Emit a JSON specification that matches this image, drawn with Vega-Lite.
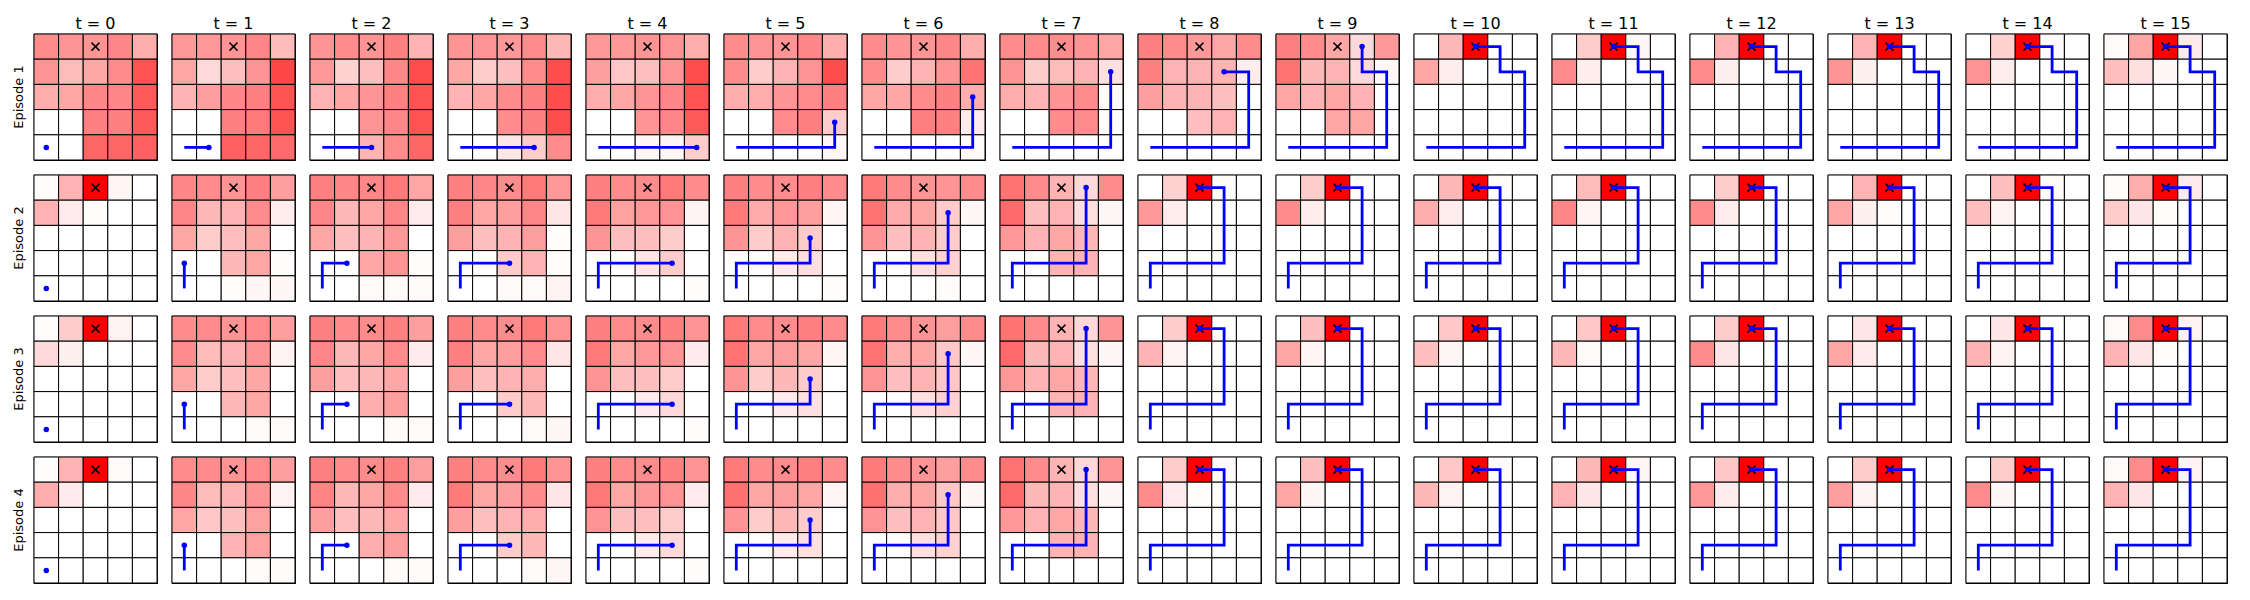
{
"$schema": "https://vega.github.io/schema/vega-lite/v6.json",
"padding": {"left": 12, "top": 16, "right": 5, "bottom": 5},
"background": "white",
"bounds": "flush",
"data": {"values": [
{"e":1,"t":0,"r":0,"c0":45,"c1":42,"c2":42,"c3":47,"c4":32},{"e":1,"t":0,"r":1,"c0":42,"c1":27,"c2":35,"c3":45,"c4":68},{"e":1,"t":0,"r":2,"c0":32,"c1":35,"c2":47,"c3":47,"c4":65},{"e":1,"t":0,"r":3,"c0":0,"c1":0,"c2":50,"c3":50,"c4":65},{"e":1,"t":0,"r":4,"c0":0,"c1":0,"c2":60,"c3":60,"c4":62},
{"e":1,"t":1,"r":0,"c0":40,"c1":40,"c2":42,"c3":47,"c4":27},{"e":1,"t":1,"r":1,"c0":35,"c1":15,"c2":25,"c3":42,"c4":72},{"e":1,"t":1,"r":2,"c0":30,"c1":38,"c2":47,"c3":50,"c4":68},{"e":1,"t":1,"r":3,"c0":0,"c1":0,"c2":50,"c3":52,"c4":68},{"e":1,"t":1,"r":4,"c0":0,"c1":0,"c2":62,"c3":60,"c4":58},
{"e":1,"t":2,"r":0,"c0":42,"c1":45,"c2":42,"c3":50,"c4":30},{"e":1,"t":2,"r":1,"c0":40,"c1":18,"c2":25,"c3":47,"c4":70},{"e":1,"t":2,"r":2,"c0":30,"c1":35,"c2":42,"c3":50,"c4":68},{"e":1,"t":2,"r":3,"c0":0,"c1":0,"c2":42,"c3":47,"c4":68},{"e":1,"t":2,"r":4,"c0":0,"c1":0,"c2":30,"c3":45,"c4":60},
{"e":1,"t":3,"r":0,"c0":42,"c1":42,"c2":40,"c3":45,"c4":28},{"e":1,"t":3,"r":1,"c0":35,"c1":20,"c2":25,"c3":45,"c4":70},{"e":1,"t":3,"r":2,"c0":30,"c1":35,"c2":45,"c3":50,"c4":70},{"e":1,"t":3,"r":3,"c0":0,"c1":0,"c2":45,"c3":50,"c4":70},{"e":1,"t":3,"r":4,"c0":0,"c1":0,"c2":10,"c3":20,"c4":45},
{"e":1,"t":4,"r":0,"c0":40,"c1":40,"c2":42,"c3":42,"c4":32},{"e":1,"t":4,"r":1,"c0":38,"c1":22,"c2":25,"c3":42,"c4":70},{"e":1,"t":4,"r":2,"c0":32,"c1":35,"c2":42,"c3":47,"c4":68},{"e":1,"t":4,"r":3,"c0":0,"c1":0,"c2":42,"c3":47,"c4":65},{"e":1,"t":4,"r":4,"c0":0,"c1":0,"c2":3,"c3":3,"c4":20},
{"e":1,"t":5,"r":0,"c0":45,"c1":42,"c2":42,"c3":47,"c4":32},{"e":1,"t":5,"r":1,"c0":45,"c1":20,"c2":30,"c3":42,"c4":70},{"e":1,"t":5,"r":2,"c0":32,"c1":32,"c2":42,"c3":45,"c4":50},{"e":1,"t":5,"r":3,"c0":0,"c1":0,"c2":45,"c3":50,"c4":20},{"e":1,"t":5,"r":4,"c0":0,"c1":0,"c2":0,"c3":0,"c4":3},
{"e":1,"t":6,"r":0,"c0":45,"c1":42,"c2":42,"c3":47,"c4":32},{"e":1,"t":6,"r":1,"c0":45,"c1":20,"c2":30,"c3":42,"c4":55},{"e":1,"t":6,"r":2,"c0":35,"c1":35,"c2":45,"c3":50,"c4":32},{"e":1,"t":6,"r":3,"c0":0,"c1":0,"c2":50,"c3":50,"c4":8},{"e":1,"t":6,"r":4,"c0":0,"c1":0,"c2":0,"c3":0,"c4":2},
{"e":1,"t":7,"r":0,"c0":45,"c1":45,"c2":45,"c3":42,"c4":35},{"e":1,"t":7,"r":1,"c0":42,"c1":20,"c2":27,"c3":30,"c4":12},{"e":1,"t":7,"r":2,"c0":32,"c1":30,"c2":42,"c3":45,"c4":2},{"e":1,"t":7,"r":3,"c0":0,"c1":0,"c2":45,"c3":45,"c4":0},{"e":1,"t":7,"r":4,"c0":0,"c1":0,"c2":0,"c3":0,"c4":0},
{"e":1,"t":8,"r":0,"c0":50,"c1":45,"c2":40,"c3":35,"c4":45},{"e":1,"t":8,"r":1,"c0":50,"c1":30,"c2":30,"c3":30,"c4":7},{"e":1,"t":8,"r":2,"c0":38,"c1":30,"c2":30,"c3":25,"c4":0},{"e":1,"t":8,"r":3,"c0":0,"c1":0,"c2":25,"c3":30,"c4":0},{"e":1,"t":8,"r":4,"c0":0,"c1":0,"c2":0,"c3":0,"c4":0},
{"e":1,"t":9,"r":0,"c0":50,"c1":45,"c2":35,"c3":15,"c4":40},{"e":1,"t":9,"r":1,"c0":55,"c1":28,"c2":30,"c3":15,"c4":3},{"e":1,"t":9,"r":2,"c0":35,"c1":30,"c2":35,"c3":30,"c4":0},{"e":1,"t":9,"r":3,"c0":0,"c1":0,"c2":35,"c3":35,"c4":0},{"e":1,"t":9,"r":4,"c0":0,"c1":0,"c2":0,"c3":0,"c4":0},
{"e":1,"t":10,"r":0,"c0":0,"c1":28,"c2":100,"c3":0,"c4":0},{"e":1,"t":10,"r":1,"c0":35,"c1":7,"c2":0,"c3":0,"c4":0},{"e":1,"t":10,"r":2,"c0":0,"c1":0,"c2":0,"c3":0,"c4":0},{"e":1,"t":10,"r":3,"c0":0,"c1":0,"c2":0,"c3":0,"c4":0},{"e":1,"t":10,"r":4,"c0":0,"c1":0,"c2":0,"c3":0,"c4":0},
{"e":1,"t":11,"r":0,"c0":0,"c1":20,"c2":100,"c3":3,"c4":0},{"e":1,"t":11,"r":1,"c0":45,"c1":7,"c2":0,"c3":0,"c4":0},{"e":1,"t":11,"r":2,"c0":0,"c1":0,"c2":0,"c3":0,"c4":0},{"e":1,"t":11,"r":3,"c0":0,"c1":0,"c2":0,"c3":0,"c4":0},{"e":1,"t":11,"r":4,"c0":0,"c1":0,"c2":0,"c3":0,"c4":0},
{"e":1,"t":12,"r":0,"c0":0,"c1":30,"c2":100,"c3":0,"c4":0},{"e":1,"t":12,"r":1,"c0":45,"c1":6,"c2":0,"c3":0,"c4":0},{"e":1,"t":12,"r":2,"c0":0,"c1":0,"c2":0,"c3":0,"c4":0},{"e":1,"t":12,"r":3,"c0":0,"c1":0,"c2":0,"c3":0,"c4":0},{"e":1,"t":12,"r":4,"c0":0,"c1":0,"c2":0,"c3":0,"c4":0},
{"e":1,"t":13,"r":0,"c0":0,"c1":30,"c2":100,"c3":0,"c4":0},{"e":1,"t":13,"r":1,"c0":42,"c1":6,"c2":0,"c3":0,"c4":0},{"e":1,"t":13,"r":2,"c0":0,"c1":0,"c2":0,"c3":0,"c4":0},{"e":1,"t":13,"r":3,"c0":0,"c1":0,"c2":0,"c3":0,"c4":0},{"e":1,"t":13,"r":4,"c0":0,"c1":0,"c2":0,"c3":0,"c4":0},
{"e":1,"t":14,"r":0,"c0":0,"c1":18,"c2":100,"c3":2,"c4":0},{"e":1,"t":14,"r":1,"c0":42,"c1":7,"c2":0,"c3":0,"c4":0},{"e":1,"t":14,"r":2,"c0":0,"c1":0,"c2":0,"c3":0,"c4":0},{"e":1,"t":14,"r":3,"c0":0,"c1":0,"c2":0,"c3":0,"c4":0},{"e":1,"t":14,"r":4,"c0":0,"c1":0,"c2":0,"c3":0,"c4":0},
{"e":1,"t":15,"r":0,"c0":2,"c1":35,"c2":100,"c3":8,"c4":0},{"e":1,"t":15,"r":1,"c0":25,"c1":12,"c2":3,"c3":0,"c4":0},{"e":1,"t":15,"r":2,"c0":0,"c1":0,"c2":0,"c3":0,"c4":0},{"e":1,"t":15,"r":3,"c0":0,"c1":0,"c2":0,"c3":0,"c4":0},{"e":1,"t":15,"r":4,"c0":0,"c1":0,"c2":0,"c3":0,"c4":0},
{"e":2,"t":0,"r":0,"c0":1,"c1":30,"c2":100,"c3":4,"c4":0},{"e":2,"t":0,"r":1,"c0":30,"c1":8,"c2":1,"c3":0,"c4":0},{"e":2,"t":0,"r":2,"c0":0,"c1":0,"c2":0,"c3":0,"c4":0},{"e":2,"t":0,"r":3,"c0":0,"c1":0,"c2":0,"c3":0,"c4":0},{"e":2,"t":0,"r":4,"c0":0,"c1":0,"c2":0,"c3":0,"c4":0},
{"e":2,"t":1,"r":0,"c0":47,"c1":45,"c2":42,"c3":50,"c4":38},{"e":2,"t":1,"r":1,"c0":47,"c1":28,"c2":30,"c3":45,"c4":7},{"e":2,"t":1,"r":2,"c0":35,"c1":20,"c2":25,"c3":35,"c4":0},{"e":2,"t":1,"r":3,"c0":0,"c1":0,"c2":28,"c3":35,"c4":1},{"e":2,"t":1,"r":4,"c0":0,"c1":0,"c2":1,"c3":3,"c4":3},
{"e":2,"t":2,"r":0,"c0":50,"c1":47,"c2":47,"c3":52,"c4":35},{"e":2,"t":2,"r":1,"c0":47,"c1":28,"c2":35,"c3":47,"c4":8},{"e":2,"t":2,"r":2,"c0":35,"c1":25,"c2":30,"c3":40,"c4":0},{"e":2,"t":2,"r":3,"c0":0,"c1":0,"c2":35,"c3":42,"c4":1},{"e":2,"t":2,"r":4,"c0":0,"c1":0,"c2":2,"c3":2,"c4":2},
{"e":2,"t":3,"r":0,"c0":50,"c1":47,"c2":45,"c3":52,"c4":40},{"e":2,"t":3,"r":1,"c0":50,"c1":35,"c2":38,"c3":47,"c4":10},{"e":2,"t":3,"r":2,"c0":38,"c1":25,"c2":30,"c3":38,"c4":1},{"e":2,"t":3,"r":3,"c0":0,"c1":0,"c2":20,"c3":30,"c4":1},{"e":2,"t":3,"r":4,"c0":0,"c1":0,"c2":2,"c3":2,"c4":5},
{"e":2,"t":4,"r":0,"c0":50,"c1":45,"c2":45,"c3":52,"c4":45},{"e":2,"t":4,"r":1,"c0":52,"c1":37,"c2":40,"c3":42,"c4":5},{"e":2,"t":4,"r":2,"c0":42,"c1":25,"c2":25,"c3":20,"c4":0},{"e":2,"t":4,"r":3,"c0":0,"c1":0,"c2":10,"c3":20,"c4":0},{"e":2,"t":4,"r":4,"c0":0,"c1":0,"c2":0,"c3":0,"c4":1},
{"e":2,"t":5,"r":0,"c0":50,"c1":45,"c2":45,"c3":50,"c4":45},{"e":2,"t":5,"r":1,"c0":52,"c1":33,"c2":40,"c3":38,"c4":4},{"e":2,"t":5,"r":2,"c0":42,"c1":20,"c2":30,"c3":20,"c4":0},{"e":2,"t":5,"r":3,"c0":0,"c1":0,"c2":8,"c3":13,"c4":0},{"e":2,"t":5,"r":4,"c0":0,"c1":0,"c2":0,"c3":0,"c4":1},
{"e":2,"t":6,"r":0,"c0":52,"c1":45,"c2":42,"c3":42,"c4":45},{"e":2,"t":6,"r":1,"c0":55,"c1":33,"c2":35,"c3":20,"c4":3},{"e":2,"t":6,"r":2,"c0":42,"c1":25,"c2":30,"c3":20,"c4":0},{"e":2,"t":6,"r":3,"c0":0,"c1":0,"c2":12,"c3":18,"c4":0},{"e":2,"t":6,"r":4,"c0":0,"c1":0,"c2":0,"c3":1,"c4":0},
{"e":2,"t":7,"r":0,"c0":55,"c1":45,"c2":30,"c3":15,"c4":45},{"e":2,"t":7,"r":1,"c0":58,"c1":25,"c2":30,"c3":12,"c4":3},{"e":2,"t":7,"r":2,"c0":40,"c1":30,"c2":35,"c3":28,"c4":0},{"e":2,"t":7,"r":3,"c0":0,"c1":0,"c2":30,"c3":30,"c4":0},{"e":2,"t":7,"r":4,"c0":0,"c1":0,"c2":0,"c3":0,"c4":0},
{"e":2,"t":8,"r":0,"c0":0,"c1":18,"c2":100,"c3":1,"c4":0},{"e":2,"t":8,"r":1,"c0":40,"c1":7,"c2":0,"c3":0,"c4":0},{"e":2,"t":8,"r":2,"c0":0,"c1":0,"c2":0,"c3":0,"c4":0},{"e":2,"t":8,"r":3,"c0":0,"c1":0,"c2":0,"c3":0,"c4":0},{"e":2,"t":8,"r":4,"c0":0,"c1":0,"c2":0,"c3":0,"c4":0},
{"e":2,"t":9,"r":0,"c0":0,"c1":20,"c2":100,"c3":1,"c4":0},{"e":2,"t":9,"r":1,"c0":45,"c1":7,"c2":0,"c3":0,"c4":0},{"e":2,"t":9,"r":2,"c0":0,"c1":0,"c2":0,"c3":0,"c4":0},{"e":2,"t":9,"r":3,"c0":0,"c1":0,"c2":0,"c3":0,"c4":0},{"e":2,"t":9,"r":4,"c0":0,"c1":0,"c2":0,"c3":0,"c4":0},
{"e":2,"t":10,"r":0,"c0":0,"c1":28,"c2":100,"c3":1,"c4":0},{"e":2,"t":10,"r":1,"c0":32,"c1":7,"c2":0,"c3":0,"c4":0},{"e":2,"t":10,"r":2,"c0":0,"c1":0,"c2":0,"c3":0,"c4":0},{"e":2,"t":10,"r":3,"c0":0,"c1":0,"c2":0,"c3":0,"c4":0},{"e":2,"t":10,"r":4,"c0":0,"c1":0,"c2":0,"c3":0,"c4":0},
{"e":2,"t":11,"r":0,"c0":0,"c1":27,"c2":100,"c3":0,"c4":0},{"e":2,"t":11,"r":1,"c0":47,"c1":4,"c2":0,"c3":0,"c4":0},{"e":2,"t":11,"r":2,"c0":0,"c1":0,"c2":0,"c3":0,"c4":0},{"e":2,"t":11,"r":3,"c0":0,"c1":0,"c2":0,"c3":0,"c4":0},{"e":2,"t":11,"r":4,"c0":0,"c1":0,"c2":0,"c3":0,"c4":0},
{"e":2,"t":12,"r":0,"c0":0,"c1":20,"c2":100,"c3":0,"c4":0},{"e":2,"t":12,"r":1,"c0":45,"c1":7,"c2":0,"c3":0,"c4":0},{"e":2,"t":12,"r":2,"c0":0,"c1":0,"c2":0,"c3":0,"c4":0},{"e":2,"t":12,"r":3,"c0":0,"c1":0,"c2":0,"c3":0,"c4":0},{"e":2,"t":12,"r":4,"c0":0,"c1":0,"c2":0,"c3":0,"c4":0},
{"e":2,"t":13,"r":0,"c0":0,"c1":30,"c2":100,"c3":0,"c4":0},{"e":2,"t":13,"r":1,"c0":35,"c1":6,"c2":1,"c3":0,"c4":0},{"e":2,"t":13,"r":2,"c0":0,"c1":0,"c2":0,"c3":0,"c4":0},{"e":2,"t":13,"r":3,"c0":0,"c1":0,"c2":0,"c3":0,"c4":0},{"e":2,"t":13,"r":4,"c0":0,"c1":0,"c2":0,"c3":0,"c4":0},
{"e":2,"t":14,"r":0,"c0":0,"c1":25,"c2":100,"c3":2,"c4":0},{"e":2,"t":14,"r":1,"c0":25,"c1":5,"c2":0,"c3":0,"c4":0},{"e":2,"t":14,"r":2,"c0":0,"c1":0,"c2":0,"c3":0,"c4":0},{"e":2,"t":14,"r":3,"c0":0,"c1":0,"c2":0,"c3":0,"c4":0},{"e":2,"t":14,"r":4,"c0":0,"c1":0,"c2":0,"c3":0,"c4":0},
{"e":2,"t":15,"r":0,"c0":1,"c1":32,"c2":100,"c3":8,"c4":0},{"e":2,"t":15,"r":1,"c0":20,"c1":10,"c2":1,"c3":0,"c4":0},{"e":2,"t":15,"r":2,"c0":0,"c1":0,"c2":0,"c3":0,"c4":0},{"e":2,"t":15,"r":3,"c0":0,"c1":0,"c2":0,"c3":0,"c4":0},{"e":2,"t":15,"r":4,"c0":0,"c1":0,"c2":0,"c3":0,"c4":0},
{"e":3,"t":0,"r":0,"c0":1,"c1":20,"c2":100,"c3":5,"c4":0},{"e":3,"t":0,"r":1,"c0":15,"c1":6,"c2":0,"c3":0,"c4":0},{"e":3,"t":0,"r":2,"c0":0,"c1":0,"c2":0,"c3":0,"c4":0},{"e":3,"t":0,"r":3,"c0":0,"c1":0,"c2":0,"c3":0,"c4":0},{"e":3,"t":0,"r":4,"c0":0,"c1":0,"c2":0,"c3":0,"c4":0},
{"e":3,"t":1,"r":0,"c0":45,"c1":45,"c2":42,"c3":45,"c4":38},{"e":3,"t":1,"r":1,"c0":45,"c1":27,"c2":30,"c3":42,"c4":5},{"e":3,"t":1,"r":2,"c0":35,"c1":20,"c2":25,"c3":35,"c4":0},{"e":3,"t":1,"r":3,"c0":0,"c1":0,"c2":28,"c3":35,"c4":0},{"e":3,"t":1,"r":4,"c0":0,"c1":0,"c2":0,"c3":2,"c4":2},
{"e":3,"t":2,"r":0,"c0":50,"c1":45,"c2":45,"c3":50,"c4":38},{"e":3,"t":2,"r":1,"c0":47,"c1":28,"c2":35,"c3":45,"c4":8},{"e":3,"t":2,"r":2,"c0":38,"c1":25,"c2":28,"c3":35,"c4":0},{"e":3,"t":2,"r":3,"c0":0,"c1":0,"c2":32,"c3":38,"c4":0},{"e":3,"t":2,"r":4,"c0":0,"c1":0,"c2":0,"c3":2,"c4":2},
{"e":3,"t":3,"r":0,"c0":50,"c1":45,"c2":45,"c3":52,"c4":42},{"e":3,"t":3,"r":1,"c0":50,"c1":35,"c2":38,"c3":45,"c4":10},{"e":3,"t":3,"r":2,"c0":38,"c1":25,"c2":30,"c3":32,"c4":0},{"e":3,"t":3,"r":3,"c0":0,"c1":0,"c2":20,"c3":28,"c4":0},{"e":3,"t":3,"r":4,"c0":0,"c1":0,"c2":0,"c3":2,"c4":3},
{"e":3,"t":4,"r":0,"c0":50,"c1":45,"c2":45,"c3":50,"c4":42},{"e":3,"t":4,"r":1,"c0":52,"c1":35,"c2":40,"c3":42,"c4":8},{"e":3,"t":4,"r":2,"c0":42,"c1":25,"c2":25,"c3":20,"c4":0},{"e":3,"t":4,"r":3,"c0":0,"c1":0,"c2":8,"c3":15,"c4":0},{"e":3,"t":4,"r":4,"c0":0,"c1":0,"c2":0,"c3":0,"c4":1},
{"e":3,"t":5,"r":0,"c0":52,"c1":45,"c2":45,"c3":50,"c4":45},{"e":3,"t":5,"r":1,"c0":55,"c1":35,"c2":38,"c3":35,"c4":4},{"e":3,"t":5,"r":2,"c0":42,"c1":20,"c2":28,"c3":20,"c4":0},{"e":3,"t":5,"r":3,"c0":0,"c1":0,"c2":8,"c3":12,"c4":0},{"e":3,"t":5,"r":4,"c0":0,"c1":0,"c2":0,"c3":0,"c4":0},
{"e":3,"t":6,"r":0,"c0":52,"c1":45,"c2":42,"c3":38,"c4":45},{"e":3,"t":6,"r":1,"c0":55,"c1":32,"c2":35,"c3":22,"c4":3},{"e":3,"t":6,"r":2,"c0":42,"c1":25,"c2":30,"c3":22,"c4":0},{"e":3,"t":6,"r":3,"c0":0,"c1":0,"c2":12,"c3":18,"c4":0},{"e":3,"t":6,"r":4,"c0":0,"c1":0,"c2":0,"c3":0,"c4":0},
{"e":3,"t":7,"r":0,"c0":55,"c1":45,"c2":30,"c3":15,"c4":42},{"e":3,"t":7,"r":1,"c0":58,"c1":28,"c2":30,"c3":12,"c4":3},{"e":3,"t":7,"r":2,"c0":40,"c1":30,"c2":35,"c3":28,"c4":0},{"e":3,"t":7,"r":3,"c0":0,"c1":0,"c2":30,"c3":30,"c4":0},{"e":3,"t":7,"r":4,"c0":0,"c1":0,"c2":0,"c3":0,"c4":0},
{"e":3,"t":8,"r":0,"c0":0,"c1":20,"c2":100,"c3":0,"c4":0},{"e":3,"t":8,"r":1,"c0":30,"c1":5,"c2":0,"c3":0,"c4":0},{"e":3,"t":8,"r":2,"c0":0,"c1":0,"c2":0,"c3":0,"c4":0},{"e":3,"t":8,"r":3,"c0":0,"c1":0,"c2":0,"c3":0,"c4":0},{"e":3,"t":8,"r":4,"c0":0,"c1":0,"c2":0,"c3":0,"c4":0},
{"e":3,"t":9,"r":0,"c0":0,"c1":25,"c2":100,"c3":0,"c4":0},{"e":3,"t":9,"r":1,"c0":35,"c1":4,"c2":0,"c3":0,"c4":0},{"e":3,"t":9,"r":2,"c0":0,"c1":0,"c2":0,"c3":0,"c4":0},{"e":3,"t":9,"r":3,"c0":0,"c1":0,"c2":0,"c3":0,"c4":0},{"e":3,"t":9,"r":4,"c0":0,"c1":0,"c2":0,"c3":0,"c4":0},
{"e":3,"t":10,"r":0,"c0":0,"c1":22,"c2":100,"c3":0,"c4":0},{"e":3,"t":10,"r":1,"c0":25,"c1":3,"c2":0,"c3":0,"c4":0},{"e":3,"t":10,"r":2,"c0":0,"c1":0,"c2":0,"c3":0,"c4":0},{"e":3,"t":10,"r":3,"c0":0,"c1":0,"c2":0,"c3":0,"c4":0},{"e":3,"t":10,"r":4,"c0":0,"c1":0,"c2":0,"c3":0,"c4":0},
{"e":3,"t":11,"r":0,"c0":0,"c1":22,"c2":100,"c3":0,"c4":0},{"e":3,"t":11,"r":1,"c0":28,"c1":2,"c2":0,"c3":0,"c4":0},{"e":3,"t":11,"r":2,"c0":0,"c1":0,"c2":0,"c3":0,"c4":0},{"e":3,"t":11,"r":3,"c0":0,"c1":0,"c2":0,"c3":0,"c4":0},{"e":3,"t":11,"r":4,"c0":0,"c1":0,"c2":0,"c3":0,"c4":0},
{"e":3,"t":12,"r":0,"c0":0,"c1":20,"c2":100,"c3":0,"c4":0},{"e":3,"t":12,"r":1,"c0":45,"c1":10,"c2":0,"c3":0,"c4":0},{"e":3,"t":12,"r":2,"c0":0,"c1":0,"c2":0,"c3":0,"c4":0},{"e":3,"t":12,"r":3,"c0":0,"c1":0,"c2":0,"c3":0,"c4":0},{"e":3,"t":12,"r":4,"c0":0,"c1":0,"c2":0,"c3":0,"c4":0},
{"e":3,"t":13,"r":0,"c0":0,"c1":10,"c2":100,"c3":0,"c4":0},{"e":3,"t":13,"r":1,"c0":35,"c1":8,"c2":0,"c3":0,"c4":0},{"e":3,"t":13,"r":2,"c0":0,"c1":0,"c2":0,"c3":0,"c4":0},{"e":3,"t":13,"r":3,"c0":0,"c1":0,"c2":0,"c3":0,"c4":0},{"e":3,"t":13,"r":4,"c0":0,"c1":0,"c2":0,"c3":0,"c4":0},
{"e":3,"t":14,"r":0,"c0":0,"c1":10,"c2":100,"c3":0,"c4":0},{"e":3,"t":14,"r":1,"c0":30,"c1":5,"c2":0,"c3":0,"c4":0},{"e":3,"t":14,"r":2,"c0":0,"c1":0,"c2":0,"c3":0,"c4":0},{"e":3,"t":14,"r":3,"c0":0,"c1":0,"c2":0,"c3":0,"c4":0},{"e":3,"t":14,"r":4,"c0":0,"c1":0,"c2":0,"c3":0,"c4":0},
{"e":3,"t":15,"r":0,"c0":2,"c1":45,"c2":100,"c3":5,"c4":0},{"e":3,"t":15,"r":1,"c0":30,"c1":10,"c2":1,"c3":0,"c4":0},{"e":3,"t":15,"r":2,"c0":0,"c1":0,"c2":0,"c3":0,"c4":0},{"e":3,"t":15,"r":3,"c0":0,"c1":0,"c2":0,"c3":0,"c4":0},{"e":3,"t":15,"r":4,"c0":0,"c1":0,"c2":0,"c3":0,"c4":0},
{"e":4,"t":0,"r":0,"c0":1,"c1":30,"c2":100,"c3":2,"c4":0},{"e":4,"t":0,"r":1,"c0":32,"c1":8,"c2":0,"c3":0,"c4":0},{"e":4,"t":0,"r":2,"c0":0,"c1":0,"c2":0,"c3":0,"c4":0},{"e":4,"t":0,"r":3,"c0":0,"c1":0,"c2":0,"c3":0,"c4":0},{"e":4,"t":0,"r":4,"c0":0,"c1":0,"c2":0,"c3":0,"c4":0},
{"e":4,"t":1,"r":0,"c0":45,"c1":45,"c2":42,"c3":45,"c4":38},{"e":4,"t":1,"r":1,"c0":47,"c1":27,"c2":30,"c3":42,"c4":5},{"e":4,"t":1,"r":2,"c0":35,"c1":22,"c2":25,"c3":37,"c4":0},{"e":4,"t":1,"r":3,"c0":0,"c1":0,"c2":30,"c3":37,"c4":0},{"e":4,"t":1,"r":4,"c0":0,"c1":0,"c2":0,"c3":2,"c4":2},
{"e":4,"t":2,"r":0,"c0":50,"c1":45,"c2":45,"c3":50,"c4":38},{"e":4,"t":2,"r":1,"c0":48,"c1":28,"c2":35,"c3":45,"c4":8},{"e":4,"t":2,"r":2,"c0":38,"c1":25,"c2":28,"c3":35,"c4":0},{"e":4,"t":2,"r":3,"c0":0,"c1":0,"c2":32,"c3":38,"c4":0},{"e":4,"t":2,"r":4,"c0":0,"c1":0,"c2":0,"c3":2,"c4":2},
{"e":4,"t":3,"r":0,"c0":50,"c1":45,"c2":45,"c3":52,"c4":42},{"e":4,"t":3,"r":1,"c0":52,"c1":35,"c2":38,"c3":45,"c4":10},{"e":4,"t":3,"r":2,"c0":38,"c1":25,"c2":30,"c3":32,"c4":0},{"e":4,"t":3,"r":3,"c0":0,"c1":0,"c2":20,"c3":28,"c4":0},{"e":4,"t":3,"r":4,"c0":0,"c1":0,"c2":0,"c3":2,"c4":3},
{"e":4,"t":4,"r":0,"c0":50,"c1":45,"c2":45,"c3":50,"c4":42},{"e":4,"t":4,"r":1,"c0":53,"c1":35,"c2":40,"c3":42,"c4":8},{"e":4,"t":4,"r":2,"c0":42,"c1":25,"c2":25,"c3":20,"c4":0},{"e":4,"t":4,"r":3,"c0":0,"c1":0,"c2":8,"c3":15,"c4":0},{"e":4,"t":4,"r":4,"c0":0,"c1":0,"c2":0,"c3":0,"c4":1},
{"e":4,"t":5,"r":0,"c0":52,"c1":45,"c2":45,"c3":50,"c4":45},{"e":4,"t":5,"r":1,"c0":56,"c1":35,"c2":38,"c3":35,"c4":4},{"e":4,"t":5,"r":2,"c0":42,"c1":20,"c2":28,"c3":20,"c4":0},{"e":4,"t":5,"r":3,"c0":0,"c1":0,"c2":8,"c3":12,"c4":0},{"e":4,"t":5,"r":4,"c0":0,"c1":0,"c2":0,"c3":0,"c4":0},
{"e":4,"t":6,"r":0,"c0":52,"c1":45,"c2":42,"c3":38,"c4":45},{"e":4,"t":6,"r":1,"c0":56,"c1":32,"c2":35,"c3":22,"c4":3},{"e":4,"t":6,"r":2,"c0":42,"c1":25,"c2":30,"c3":22,"c4":0},{"e":4,"t":6,"r":3,"c0":0,"c1":0,"c2":12,"c3":18,"c4":0},{"e":4,"t":6,"r":4,"c0":0,"c1":0,"c2":0,"c3":0,"c4":0},
{"e":4,"t":7,"r":0,"c0":55,"c1":45,"c2":30,"c3":15,"c4":42},{"e":4,"t":7,"r":1,"c0":58,"c1":28,"c2":30,"c3":12,"c4":3},{"e":4,"t":7,"r":2,"c0":40,"c1":30,"c2":35,"c3":28,"c4":0},{"e":4,"t":7,"r":3,"c0":0,"c1":0,"c2":30,"c3":30,"c4":0},{"e":4,"t":7,"r":4,"c0":0,"c1":0,"c2":0,"c3":0,"c4":0},
{"e":4,"t":8,"r":0,"c0":0,"c1":20,"c2":100,"c3":2,"c4":0},{"e":4,"t":8,"r":1,"c0":45,"c1":8,"c2":1,"c3":0,"c4":0},{"e":4,"t":8,"r":2,"c0":0,"c1":0,"c2":0,"c3":0,"c4":0},{"e":4,"t":8,"r":3,"c0":0,"c1":0,"c2":0,"c3":0,"c4":0},{"e":4,"t":8,"r":4,"c0":0,"c1":0,"c2":0,"c3":0,"c4":0},
{"e":4,"t":9,"r":0,"c0":0,"c1":25,"c2":100,"c3":0,"c4":0},{"e":4,"t":9,"r":1,"c0":35,"c1":3,"c2":0,"c3":0,"c4":0},{"e":4,"t":9,"r":2,"c0":0,"c1":0,"c2":0,"c3":0,"c4":0},{"e":4,"t":9,"r":3,"c0":0,"c1":0,"c2":0,"c3":0,"c4":0},{"e":4,"t":9,"r":4,"c0":0,"c1":0,"c2":0,"c3":0,"c4":0},
{"e":4,"t":10,"r":0,"c0":0,"c1":22,"c2":100,"c3":2,"c4":0},{"e":4,"t":10,"r":1,"c0":28,"c1":5,"c2":0,"c3":0,"c4":0},{"e":4,"t":10,"r":2,"c0":0,"c1":0,"c2":0,"c3":0,"c4":0},{"e":4,"t":10,"r":3,"c0":0,"c1":0,"c2":0,"c3":0,"c4":0},{"e":4,"t":10,"r":4,"c0":0,"c1":0,"c2":0,"c3":0,"c4":0},
{"e":4,"t":11,"r":0,"c0":0,"c1":28,"c2":100,"c3":3,"c4":0},{"e":4,"t":11,"r":1,"c0":30,"c1":10,"c2":0,"c3":0,"c4":0},{"e":4,"t":11,"r":2,"c0":0,"c1":0,"c2":0,"c3":0,"c4":0},{"e":4,"t":11,"r":3,"c0":0,"c1":0,"c2":0,"c3":0,"c4":0},{"e":4,"t":11,"r":4,"c0":0,"c1":0,"c2":0,"c3":0,"c4":0},
{"e":4,"t":12,"r":0,"c0":0,"c1":22,"c2":100,"c3":0,"c4":0},{"e":4,"t":12,"r":1,"c0":40,"c1":7,"c2":0,"c3":0,"c4":0},{"e":4,"t":12,"r":2,"c0":0,"c1":0,"c2":0,"c3":0,"c4":0},{"e":4,"t":12,"r":3,"c0":0,"c1":0,"c2":0,"c3":0,"c4":0},{"e":4,"t":12,"r":4,"c0":0,"c1":0,"c2":0,"c3":0,"c4":0},
{"e":4,"t":13,"r":0,"c0":0,"c1":20,"c2":100,"c3":0,"c4":0},{"e":4,"t":13,"r":1,"c0":38,"c1":5,"c2":0,"c3":0,"c4":0},{"e":4,"t":13,"r":2,"c0":0,"c1":0,"c2":0,"c3":0,"c4":0},{"e":4,"t":13,"r":3,"c0":0,"c1":0,"c2":0,"c3":0,"c4":0},{"e":4,"t":13,"r":4,"c0":0,"c1":0,"c2":0,"c3":0,"c4":0},
{"e":4,"t":14,"r":0,"c0":0,"c1":20,"c2":100,"c3":0,"c4":0},{"e":4,"t":14,"r":1,"c0":45,"c1":3,"c2":0,"c3":0,"c4":0},{"e":4,"t":14,"r":2,"c0":0,"c1":0,"c2":0,"c3":0,"c4":0},{"e":4,"t":14,"r":3,"c0":0,"c1":0,"c2":0,"c3":0,"c4":0},{"e":4,"t":14,"r":4,"c0":0,"c1":0,"c2":0,"c3":0,"c4":0},
{"e":4,"t":15,"r":0,"c0":2,"c1":45,"c2":100,"c3":5,"c4":0},{"e":4,"t":15,"r":1,"c0":30,"c1":10,"c2":0,"c3":0,"c4":0},{"e":4,"t":15,"r":2,"c0":0,"c1":0,"c2":0,"c3":0,"c4":0},{"e":4,"t":15,"r":3,"c0":0,"c1":0,"c2":0,"c3":0,"c4":0},{"e":4,"t":15,"r":4,"c0":0,"c1":0,"c2":0,"c3":0,"c4":0},
{"e":1,"t":0,"s":0,"col":"c0","r":4,"d":1},
{"e":1,"t":1,"s":0,"col":"c0","r":4},{"e":1,"t":1,"s":1,"col":"c1","r":4,"d":1},
{"e":1,"t":2,"s":0,"col":"c0","r":4},{"e":1,"t":2,"s":1,"col":"c2","r":4,"d":1},
{"e":1,"t":3,"s":0,"col":"c0","r":4},{"e":1,"t":3,"s":1,"col":"c3","r":4,"d":1},
{"e":1,"t":4,"s":0,"col":"c0","r":4},{"e":1,"t":4,"s":1,"col":"c4","r":4,"d":1},
{"e":1,"t":5,"s":0,"col":"c0","r":4},{"e":1,"t":5,"s":1,"col":"c4","r":4},{"e":1,"t":5,"s":2,"col":"c4","r":3,"d":1},
{"e":1,"t":6,"s":0,"col":"c0","r":4},{"e":1,"t":6,"s":1,"col":"c4","r":4},{"e":1,"t":6,"s":2,"col":"c4","r":2,"d":1},
{"e":1,"t":7,"s":0,"col":"c0","r":4},{"e":1,"t":7,"s":1,"col":"c4","r":4},{"e":1,"t":7,"s":2,"col":"c4","r":1,"d":1},
{"e":1,"t":8,"s":0,"col":"c0","r":4},{"e":1,"t":8,"s":1,"col":"c4","r":4},{"e":1,"t":8,"s":2,"col":"c4","r":1},{"e":1,"t":8,"s":3,"col":"c3","r":1,"d":1},
{"e":1,"t":9,"s":0,"col":"c0","r":4},{"e":1,"t":9,"s":1,"col":"c4","r":4},{"e":1,"t":9,"s":2,"col":"c4","r":1},{"e":1,"t":9,"s":3,"col":"c3","r":1},{"e":1,"t":9,"s":4,"col":"c3","r":0,"d":1},
{"e":1,"t":10,"s":0,"col":"c0","r":4},{"e":1,"t":10,"s":1,"col":"c4","r":4},{"e":1,"t":10,"s":2,"col":"c4","r":1},{"e":1,"t":10,"s":3,"col":"c3","r":1},{"e":1,"t":10,"s":4,"col":"c3","r":0},{"e":1,"t":10,"s":5,"col":"c2","r":0,"d":1},
{"e":1,"t":11,"s":0,"col":"c0","r":4},{"e":1,"t":11,"s":1,"col":"c4","r":4},{"e":1,"t":11,"s":2,"col":"c4","r":1},{"e":1,"t":11,"s":3,"col":"c3","r":1},{"e":1,"t":11,"s":4,"col":"c3","r":0},{"e":1,"t":11,"s":5,"col":"c2","r":0,"d":1},
{"e":1,"t":12,"s":0,"col":"c0","r":4},{"e":1,"t":12,"s":1,"col":"c4","r":4},{"e":1,"t":12,"s":2,"col":"c4","r":1},{"e":1,"t":12,"s":3,"col":"c3","r":1},{"e":1,"t":12,"s":4,"col":"c3","r":0},{"e":1,"t":12,"s":5,"col":"c2","r":0,"d":1},
{"e":1,"t":13,"s":0,"col":"c0","r":4},{"e":1,"t":13,"s":1,"col":"c4","r":4},{"e":1,"t":13,"s":2,"col":"c4","r":1},{"e":1,"t":13,"s":3,"col":"c3","r":1},{"e":1,"t":13,"s":4,"col":"c3","r":0},{"e":1,"t":13,"s":5,"col":"c2","r":0,"d":1},
{"e":1,"t":14,"s":0,"col":"c0","r":4},{"e":1,"t":14,"s":1,"col":"c4","r":4},{"e":1,"t":14,"s":2,"col":"c4","r":1},{"e":1,"t":14,"s":3,"col":"c3","r":1},{"e":1,"t":14,"s":4,"col":"c3","r":0},{"e":1,"t":14,"s":5,"col":"c2","r":0,"d":1},
{"e":1,"t":15,"s":0,"col":"c0","r":4},{"e":1,"t":15,"s":1,"col":"c4","r":4},{"e":1,"t":15,"s":2,"col":"c4","r":1},{"e":1,"t":15,"s":3,"col":"c3","r":1},{"e":1,"t":15,"s":4,"col":"c3","r":0},{"e":1,"t":15,"s":5,"col":"c2","r":0,"d":1},
{"e":2,"t":0,"s":0,"col":"c0","r":4,"d":1},
{"e":2,"t":1,"s":0,"col":"c0","r":4},{"e":2,"t":1,"s":1,"col":"c0","r":3,"d":1},
{"e":2,"t":2,"s":0,"col":"c0","r":4},{"e":2,"t":2,"s":1,"col":"c0","r":3},{"e":2,"t":2,"s":2,"col":"c1","r":3,"d":1},
{"e":2,"t":3,"s":0,"col":"c0","r":4},{"e":2,"t":3,"s":1,"col":"c0","r":3},{"e":2,"t":3,"s":2,"col":"c2","r":3,"d":1},
{"e":2,"t":4,"s":0,"col":"c0","r":4},{"e":2,"t":4,"s":1,"col":"c0","r":3},{"e":2,"t":4,"s":2,"col":"c3","r":3,"d":1},
{"e":2,"t":5,"s":0,"col":"c0","r":4},{"e":2,"t":5,"s":1,"col":"c0","r":3},{"e":2,"t":5,"s":2,"col":"c3","r":3},{"e":2,"t":5,"s":3,"col":"c3","r":2,"d":1},
{"e":2,"t":6,"s":0,"col":"c0","r":4},{"e":2,"t":6,"s":1,"col":"c0","r":3},{"e":2,"t":6,"s":2,"col":"c3","r":3},{"e":2,"t":6,"s":3,"col":"c3","r":1,"d":1},
{"e":2,"t":7,"s":0,"col":"c0","r":4},{"e":2,"t":7,"s":1,"col":"c0","r":3},{"e":2,"t":7,"s":2,"col":"c3","r":3},{"e":2,"t":7,"s":3,"col":"c3","r":0,"d":1},
{"e":2,"t":8,"s":0,"col":"c0","r":4},{"e":2,"t":8,"s":1,"col":"c0","r":3},{"e":2,"t":8,"s":2,"col":"c3","r":3},{"e":2,"t":8,"s":3,"col":"c3","r":0},{"e":2,"t":8,"s":4,"col":"c2","r":0,"d":1},
{"e":2,"t":9,"s":0,"col":"c0","r":4},{"e":2,"t":9,"s":1,"col":"c0","r":3},{"e":2,"t":9,"s":2,"col":"c3","r":3},{"e":2,"t":9,"s":3,"col":"c3","r":0},{"e":2,"t":9,"s":4,"col":"c2","r":0,"d":1},
{"e":2,"t":10,"s":0,"col":"c0","r":4},{"e":2,"t":10,"s":1,"col":"c0","r":3},{"e":2,"t":10,"s":2,"col":"c3","r":3},{"e":2,"t":10,"s":3,"col":"c3","r":0},{"e":2,"t":10,"s":4,"col":"c2","r":0,"d":1},
{"e":2,"t":11,"s":0,"col":"c0","r":4},{"e":2,"t":11,"s":1,"col":"c0","r":3},{"e":2,"t":11,"s":2,"col":"c3","r":3},{"e":2,"t":11,"s":3,"col":"c3","r":0},{"e":2,"t":11,"s":4,"col":"c2","r":0,"d":1},
{"e":2,"t":12,"s":0,"col":"c0","r":4},{"e":2,"t":12,"s":1,"col":"c0","r":3},{"e":2,"t":12,"s":2,"col":"c3","r":3},{"e":2,"t":12,"s":3,"col":"c3","r":0},{"e":2,"t":12,"s":4,"col":"c2","r":0,"d":1},
{"e":2,"t":13,"s":0,"col":"c0","r":4},{"e":2,"t":13,"s":1,"col":"c0","r":3},{"e":2,"t":13,"s":2,"col":"c3","r":3},{"e":2,"t":13,"s":3,"col":"c3","r":0},{"e":2,"t":13,"s":4,"col":"c2","r":0,"d":1},
{"e":2,"t":14,"s":0,"col":"c0","r":4},{"e":2,"t":14,"s":1,"col":"c0","r":3},{"e":2,"t":14,"s":2,"col":"c3","r":3},{"e":2,"t":14,"s":3,"col":"c3","r":0},{"e":2,"t":14,"s":4,"col":"c2","r":0,"d":1},
{"e":2,"t":15,"s":0,"col":"c0","r":4},{"e":2,"t":15,"s":1,"col":"c0","r":3},{"e":2,"t":15,"s":2,"col":"c3","r":3},{"e":2,"t":15,"s":3,"col":"c3","r":0},{"e":2,"t":15,"s":4,"col":"c2","r":0,"d":1},
{"e":3,"t":0,"s":0,"col":"c0","r":4,"d":1},
{"e":3,"t":1,"s":0,"col":"c0","r":4},{"e":3,"t":1,"s":1,"col":"c0","r":3,"d":1},
{"e":3,"t":2,"s":0,"col":"c0","r":4},{"e":3,"t":2,"s":1,"col":"c0","r":3},{"e":3,"t":2,"s":2,"col":"c1","r":3,"d":1},
{"e":3,"t":3,"s":0,"col":"c0","r":4},{"e":3,"t":3,"s":1,"col":"c0","r":3},{"e":3,"t":3,"s":2,"col":"c2","r":3,"d":1},
{"e":3,"t":4,"s":0,"col":"c0","r":4},{"e":3,"t":4,"s":1,"col":"c0","r":3},{"e":3,"t":4,"s":2,"col":"c3","r":3,"d":1},
{"e":3,"t":5,"s":0,"col":"c0","r":4},{"e":3,"t":5,"s":1,"col":"c0","r":3},{"e":3,"t":5,"s":2,"col":"c3","r":3},{"e":3,"t":5,"s":3,"col":"c3","r":2,"d":1},
{"e":3,"t":6,"s":0,"col":"c0","r":4},{"e":3,"t":6,"s":1,"col":"c0","r":3},{"e":3,"t":6,"s":2,"col":"c3","r":3},{"e":3,"t":6,"s":3,"col":"c3","r":1,"d":1},
{"e":3,"t":7,"s":0,"col":"c0","r":4},{"e":3,"t":7,"s":1,"col":"c0","r":3},{"e":3,"t":7,"s":2,"col":"c3","r":3},{"e":3,"t":7,"s":3,"col":"c3","r":0,"d":1},
{"e":3,"t":8,"s":0,"col":"c0","r":4},{"e":3,"t":8,"s":1,"col":"c0","r":3},{"e":3,"t":8,"s":2,"col":"c3","r":3},{"e":3,"t":8,"s":3,"col":"c3","r":0},{"e":3,"t":8,"s":4,"col":"c2","r":0,"d":1},
{"e":3,"t":9,"s":0,"col":"c0","r":4},{"e":3,"t":9,"s":1,"col":"c0","r":3},{"e":3,"t":9,"s":2,"col":"c3","r":3},{"e":3,"t":9,"s":3,"col":"c3","r":0},{"e":3,"t":9,"s":4,"col":"c2","r":0,"d":1},
{"e":3,"t":10,"s":0,"col":"c0","r":4},{"e":3,"t":10,"s":1,"col":"c0","r":3},{"e":3,"t":10,"s":2,"col":"c3","r":3},{"e":3,"t":10,"s":3,"col":"c3","r":0},{"e":3,"t":10,"s":4,"col":"c2","r":0,"d":1},
{"e":3,"t":11,"s":0,"col":"c0","r":4},{"e":3,"t":11,"s":1,"col":"c0","r":3},{"e":3,"t":11,"s":2,"col":"c3","r":3},{"e":3,"t":11,"s":3,"col":"c3","r":0},{"e":3,"t":11,"s":4,"col":"c2","r":0,"d":1},
{"e":3,"t":12,"s":0,"col":"c0","r":4},{"e":3,"t":12,"s":1,"col":"c0","r":3},{"e":3,"t":12,"s":2,"col":"c3","r":3},{"e":3,"t":12,"s":3,"col":"c3","r":0},{"e":3,"t":12,"s":4,"col":"c2","r":0,"d":1},
{"e":3,"t":13,"s":0,"col":"c0","r":4},{"e":3,"t":13,"s":1,"col":"c0","r":3},{"e":3,"t":13,"s":2,"col":"c3","r":3},{"e":3,"t":13,"s":3,"col":"c3","r":0},{"e":3,"t":13,"s":4,"col":"c2","r":0,"d":1},
{"e":3,"t":14,"s":0,"col":"c0","r":4},{"e":3,"t":14,"s":1,"col":"c0","r":3},{"e":3,"t":14,"s":2,"col":"c3","r":3},{"e":3,"t":14,"s":3,"col":"c3","r":0},{"e":3,"t":14,"s":4,"col":"c2","r":0,"d":1},
{"e":3,"t":15,"s":0,"col":"c0","r":4},{"e":3,"t":15,"s":1,"col":"c0","r":3},{"e":3,"t":15,"s":2,"col":"c3","r":3},{"e":3,"t":15,"s":3,"col":"c3","r":0},{"e":3,"t":15,"s":4,"col":"c2","r":0,"d":1},
{"e":4,"t":0,"s":0,"col":"c0","r":4,"d":1},
{"e":4,"t":1,"s":0,"col":"c0","r":4},{"e":4,"t":1,"s":1,"col":"c0","r":3,"d":1},
{"e":4,"t":2,"s":0,"col":"c0","r":4},{"e":4,"t":2,"s":1,"col":"c0","r":3},{"e":4,"t":2,"s":2,"col":"c1","r":3,"d":1},
{"e":4,"t":3,"s":0,"col":"c0","r":4},{"e":4,"t":3,"s":1,"col":"c0","r":3},{"e":4,"t":3,"s":2,"col":"c2","r":3,"d":1},
{"e":4,"t":4,"s":0,"col":"c0","r":4},{"e":4,"t":4,"s":1,"col":"c0","r":3},{"e":4,"t":4,"s":2,"col":"c3","r":3,"d":1},
{"e":4,"t":5,"s":0,"col":"c0","r":4},{"e":4,"t":5,"s":1,"col":"c0","r":3},{"e":4,"t":5,"s":2,"col":"c3","r":3},{"e":4,"t":5,"s":3,"col":"c3","r":2,"d":1},
{"e":4,"t":6,"s":0,"col":"c0","r":4},{"e":4,"t":6,"s":1,"col":"c0","r":3},{"e":4,"t":6,"s":2,"col":"c3","r":3},{"e":4,"t":6,"s":3,"col":"c3","r":1,"d":1},
{"e":4,"t":7,"s":0,"col":"c0","r":4},{"e":4,"t":7,"s":1,"col":"c0","r":3},{"e":4,"t":7,"s":2,"col":"c3","r":3},{"e":4,"t":7,"s":3,"col":"c3","r":0,"d":1},
{"e":4,"t":8,"s":0,"col":"c0","r":4},{"e":4,"t":8,"s":1,"col":"c0","r":3},{"e":4,"t":8,"s":2,"col":"c3","r":3},{"e":4,"t":8,"s":3,"col":"c3","r":0},{"e":4,"t":8,"s":4,"col":"c2","r":0,"d":1},
{"e":4,"t":9,"s":0,"col":"c0","r":4},{"e":4,"t":9,"s":1,"col":"c0","r":3},{"e":4,"t":9,"s":2,"col":"c3","r":3},{"e":4,"t":9,"s":3,"col":"c3","r":0},{"e":4,"t":9,"s":4,"col":"c2","r":0,"d":1},
{"e":4,"t":10,"s":0,"col":"c0","r":4},{"e":4,"t":10,"s":1,"col":"c0","r":3},{"e":4,"t":10,"s":2,"col":"c3","r":3},{"e":4,"t":10,"s":3,"col":"c3","r":0},{"e":4,"t":10,"s":4,"col":"c2","r":0,"d":1},
{"e":4,"t":11,"s":0,"col":"c0","r":4},{"e":4,"t":11,"s":1,"col":"c0","r":3},{"e":4,"t":11,"s":2,"col":"c3","r":3},{"e":4,"t":11,"s":3,"col":"c3","r":0},{"e":4,"t":11,"s":4,"col":"c2","r":0,"d":1},
{"e":4,"t":12,"s":0,"col":"c0","r":4},{"e":4,"t":12,"s":1,"col":"c0","r":3},{"e":4,"t":12,"s":2,"col":"c3","r":3},{"e":4,"t":12,"s":3,"col":"c3","r":0},{"e":4,"t":12,"s":4,"col":"c2","r":0,"d":1},
{"e":4,"t":13,"s":0,"col":"c0","r":4},{"e":4,"t":13,"s":1,"col":"c0","r":3},{"e":4,"t":13,"s":2,"col":"c3","r":3},{"e":4,"t":13,"s":3,"col":"c3","r":0},{"e":4,"t":13,"s":4,"col":"c2","r":0,"d":1},
{"e":4,"t":14,"s":0,"col":"c0","r":4},{"e":4,"t":14,"s":1,"col":"c0","r":3},{"e":4,"t":14,"s":2,"col":"c3","r":3},{"e":4,"t":14,"s":3,"col":"c3","r":0},{"e":4,"t":14,"s":4,"col":"c2","r":0,"d":1},
{"e":4,"t":15,"s":0,"col":"c0","r":4},{"e":4,"t":15,"s":1,"col":"c0","r":3},{"e":4,"t":15,"s":2,"col":"c3","r":3},{"e":4,"t":15,"s":3,"col":"c3","r":0},{"e":4,"t":15,"s":4,"col":"c2","r":0,"d":1}
]},
"facet": {
  "row": {"field": "e", "type": "ordinal", "header": {"labelExpr": "'Episode ' + datum.value", "labelAngle": -90, "labelOrient": "left", "labelFontSize": 13, "labelFont": "DejaVu Sans", "labelColor": "#000", "labelPadding": 2, "title": null}},
  "column": {"field": "t", "type": "ordinal", "header": {"labelExpr": "'t = ' + datum.value", "labelFontSize": 16, "labelFont": "DejaVu Sans", "labelColor": "#000", "labelPadding": 2, "title": null}}
},
"spacing": {"row": 15, "column": 15},
"spec": {
  "width": 123,
  "height": 126,
  "encoding": {
    "x": {"field": "col", "type": "nominal", "scale": {"domain": ["c0","c1","c2","c3","c4"], "paddingInner": 0, "paddingOuter": 0}, "axis": null},
    "y": {"field": "r", "type": "ordinal", "scale": {"domain": [0,1,2,3,4], "paddingInner": 0, "paddingOuter": 0}, "axis": null}
  },
  "layer": [
    {"transform": [{"filter": "isValid(datum.c0)"}, {"fold": ["c0","c1","c2","c3","c4"], "as": ["col","v"]}],
     "mark": {"type": "rect", "stroke": "#000", "strokeWidth": 1},
     "encoding": {"color": {"field": "v", "type": "quantitative", "scale": {"domain": [0,100], "range": ["#ffffff","#ff0000"], "interpolate": "rgb"}, "legend": null}}},
    {"transform": [{"filter": "isValid(datum.c0) && datum.r == 0"}, {"fold": ["c2"], "as": ["col","v"]}],
     "mark": {"type": "point", "shape": "M-1,-1L1,1M-1,1L1,-1", "size": 64, "stroke": "#000", "strokeWidth": 1.5, "filled": false, "opacity": 1}},
    {"transform": [{"filter": "isValid(datum.s)"}],
     "mark": {"type": "line", "color": "#0000ff", "strokeWidth": 2.8},
     "encoding": {"order": {"field": "s", "type": "quantitative"}}},
    {"transform": [{"filter": "datum.d == 1"}],
     "mark": {"type": "point", "filled": true, "color": "#0000ff", "size": 30, "opacity": 1}}
  ]
},
"config": {"view": {"stroke": "#000", "strokeWidth": 1.2}, "font": "DejaVu Sans", "facet": {"spacing": 15}}
}
